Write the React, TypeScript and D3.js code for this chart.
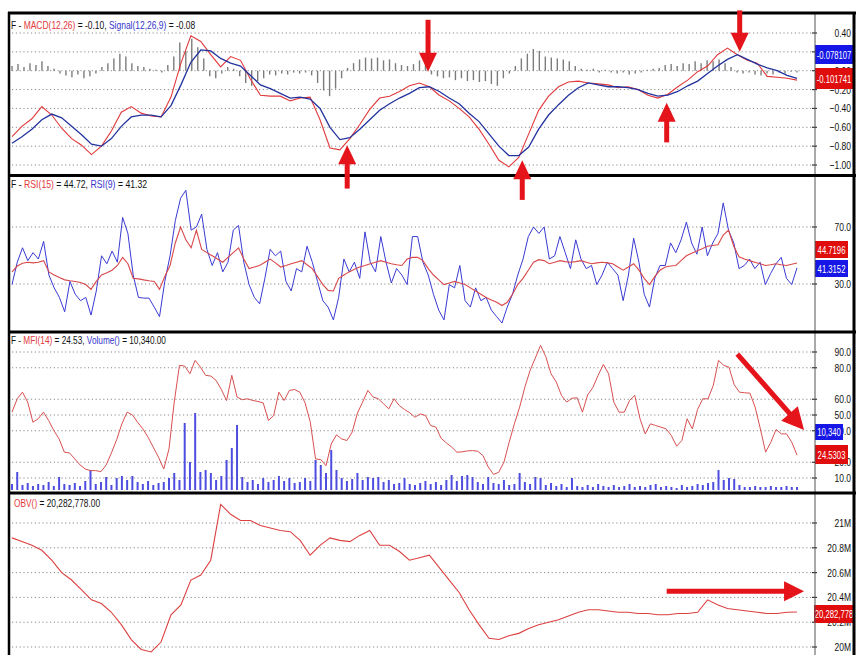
import React from 'react';
import * as d3 from 'd3';

const W = 858;
const H = 655;
const PLOT_L = 12;
const PLOT_R = 797;
const AXIS_X = 815;

// ---------- MACD panel ----------
const macdLine = [
  -0.70, -0.59, -0.51, -0.38, -0.47, -0.61, -0.72, -0.79, -0.89, -0.80,
  -0.64, -0.44, -0.38, -0.45, -0.48, -0.49, -0.28, 0.08, 0.37, 0.31,
  0.17, 0.04, 0.15, 0.11, -0.09, -0.26, -0.27, -0.27, -0.32, -0.29,
  -0.28, -0.52, -0.82, -0.84, -0.72, -0.57, -0.41, -0.29, -0.27, -0.22,
  -0.16, -0.13, -0.17, -0.26, -0.32, -0.40, -0.49, -0.62, -0.78, -0.95,
  -1.02, -0.92, -0.67, -0.42, -0.27, -0.17, -0.12, -0.11, -0.13, -0.14,
  -0.15, -0.18, -0.17, -0.20, -0.26, -0.29, -0.25, -0.17, -0.10, -0.01,
  0.05, 0.17, 0.24, 0.17, 0.11, 0.08, -0.06, -0.07, -0.08, -0.10,
];
const signalLine = [
  -0.77, -0.70, -0.62, -0.52, -0.46, -0.50, -0.59, -0.68, -0.78, -0.80,
  -0.72, -0.59, -0.49, -0.47, -0.47, -0.49, -0.37, -0.15, 0.09, 0.22,
  0.21, 0.13, 0.08, 0.05, -0.05, -0.15, -0.19, -0.24, -0.29, -0.28,
  -0.30, -0.40, -0.60, -0.73, -0.71, -0.62, -0.52, -0.42, -0.35, -0.29,
  -0.24, -0.18, -0.17, -0.22, -0.29, -0.35, -0.45, -0.54, -0.67, -0.80,
  -0.90, -0.90, -0.81, -0.62, -0.47, -0.36, -0.26, -0.18, -0.13, -0.15,
  -0.17, -0.17, -0.18, -0.20, -0.24, -0.27, -0.26, -0.22, -0.16, -0.11,
  -0.03, 0.05, 0.12, 0.17, 0.12, 0.07, 0.03, 0.00, -0.05, -0.08,
];
const macdHist = [
  0.05, 0.07, 0.04, 0.08, 0.06, 0.10, 0.05, 0.02, -0.03, -0.05,
  -0.07, -0.04, -0.08, -0.06, -0.03, 0.04, 0.08, 0.13, 0.18, 0.15,
  0.08, 0.05, 0.04, 0.02, 0.01, -0.02, 0.06, 0.15, 0.30, 0.21,
  0.34, 0.25, 0.13, -0.06, -0.08, -0.03, 0.04, 0.02, -0.06, -0.13,
  -0.16, -0.11, -0.08, -0.04, -0.05, -0.03, -0.04, -0.02, -0.03, -0.02,
  -0.05, -0.13, -0.21, -0.27, -0.19, -0.08, 0.03, 0.08, 0.12, 0.14,
  0.13, 0.14, 0.11, 0.12, 0.08, 0.06, 0.05, 0.07, 0.11, 0.08,
  -0.04, -0.06, -0.08, -0.07, -0.10, -0.08, -0.11, -0.10, -0.12, -0.11,
  -0.14, -0.16, -0.08, -0.03, 0.05, 0.13, 0.18, 0.23, 0.21, 0.15,
  0.14, 0.13, 0.12, 0.10, 0.05, 0.02, 0.01, 0.02, -0.02, 0.01,
  -0.02, -0.03, -0.02, -0.04, -0.03, -0.02, 0.01, 0.02, 0.03, 0.06,
  0.07, 0.05, 0.08, 0.07, 0.10, 0.08, 0.11, 0.10, 0.12, 0.08,
  0.04, -0.02, -0.03, -0.02, -0.04, -0.05, -0.03, -0.04, -0.02, -0.03,
  -0.01, -0.02,
];
const macdTicks = [-1.0, -0.8, -0.6, -0.4, -0.2, 0, 0.2, 0.4];

// ---------- RSI panel ----------
const rsi9 = [
  29.6, 45.3, 55.4, 46.4, 52.0, 47.5, 59.9, 36.3, 27.3, 20.6,
  10.5, 31.8, 22.8, 18.3, 20.6, 8.2, 25.1, 49.8, 44.2, 53.1,
  45.3, 76.7, 65.5, 36.3, 20.6, 20.1, 20.1, 13.8, 7.1, 31.8,
  49.8, 74.5, 90.2, 95.8, 67.8, 70.0, 79.0, 54.3, 43.0, 52.0,
  38.5, 45.3, 67.8, 71.1, 45.3, 29.6, 20.6, 16.1, 34.0, 54.3,
  49.8, 53.1, 31.8, 25.1, 40.8, 38.5, 56.5, 45.3, 31.8, 18.3,
  13.8, 4.8, 20.6, 47.5, 38.5, 45.3, 34.0, 66.6, 45.3, 38.5,
  63.3, 45.3, 30.7, 40.8, 36.3, 29.6, 63.3, 63.3, 45.3, 36.3,
  22.8, 11.6, 4.8, 29.6, 27.3, 43.0, 18.3, 13.8, 27.3, 18.3,
  20.6, 11.6, 7.1, 2.6, 13.8, 22.8, 36.3, 47.5, 63.3, 70.0,
  65.5, 70.0, 47.5, 49.8, 63.3, 52.0, 40.8, 61.0, 47.5, 40.8,
  43.0, 29.6, 36.3, 45.3, 40.8, 36.3, 18.3, 36.3, 62.1, 45.3,
  22.8, 13.8, 34.0, 43.0, 43.0, 58.8, 52.0, 61.0, 73.4, 58.8,
  50.9, 70.0, 49.8, 58.8, 65.5, 86.9, 67.8, 58.8, 40.8, 43.0,
  47.5, 40.8, 45.3, 29.6, 37.4, 44.2, 48.7, 34.0, 29.6, 41.32,
];
const rsi15 = [
  38.5, 42.6, 44.6, 45.3, 44.8, 45.3, 46.4, 38.5, 36.3, 34.5,
  32.9, 32.3, 31.8, 31.1, 29.6, 26.2, 31.8, 36.3, 37.9, 39.7,
  43.0, 48.7, 44.2, 34.0, 33.6, 32.9, 32.3, 31.8, 26.2, 35.2,
  43.0, 58.8, 70.0, 61.0, 55.4, 67.8, 54.3, 52.0, 49.8, 47.5,
  45.3, 48.7, 52.0, 55.4, 47.5, 40.8, 41.9, 43.0, 45.3, 47.5,
  44.8, 41.9, 43.0, 44.2, 45.3, 46.4, 43.5, 40.8, 35.2, 29.6,
  25.5, 25.1, 34.0, 36.3, 38.5, 40.3, 41.9, 43.0, 44.2, 45.3,
  46.4, 45.3, 44.2, 43.5, 43.0, 47.5, 48.7, 48.7, 46.4, 40.8,
  36.3, 32.9, 29.6, 30.7, 31.8, 30.7, 29.6, 27.3, 25.1, 22.8,
  20.6, 18.8, 17.2, 14.9, 17.2, 22.8, 29.6, 34.0, 39.7, 45.3,
  47.1, 46.4, 44.2, 45.3, 46.4, 45.7, 45.3, 45.7, 46.4, 45.3,
  44.2, 44.8, 45.3, 44.8, 44.2, 41.9, 39.7, 41.9, 44.2, 39.7,
  34.0, 29.6, 35.2, 39.7, 41.9, 42.6, 43.0, 46.4, 49.8, 51.6,
  53.1, 54.7, 56.5, 57.0, 57.6, 64.4, 67.8, 56.5, 49.1, 47.5,
  46.4, 45.3, 44.2, 43.0, 43.5, 44.2, 43.5, 43.0, 43.9, 44.72,
];
const rsiTicks = [30, 70];

// ---------- MFI / Volume panel ----------
const mfi14 = [
  51.8, 60.3, 64.5, 58.2, 45.4, 47.6, 51.8, 46.5, 40.1, 34.8,
  26.4, 25.9, 22.1, 18.3, 15.7, 14.7, 14.7, 14.0, 18.3, 25.9,
  34.4, 44.4, 51.8, 50.1, 45.4, 41.2, 35.9, 29.5, 23.2, 15.7,
  28.5, 58.2, 81.5, 81.1, 76.2, 84.7, 80.4, 75.2, 74.7, 72.0,
  66.2, 59.2, 75.2, 61.4, 59.7, 60.3, 59.2, 58.6, 57.7, 46.5,
  49.7, 64.5, 59.2, 65.6, 66.2, 64.5, 57.7, 45.4, 22.1, 21.7,
  17.8, 31.6, 37.4, 34.8, 33.8, 39.1, 51.2, 58.2, 65.6, 61.4,
  60.3, 57.1, 53.9, 60.3, 56.0, 53.5, 51.4, 48.6, 50.7, 49.7,
  43.3, 42.3, 35.2, 32.3, 29.7, 26.4, 26.6, 27.2, 27.4, 27.0,
  24.2, 17.0, 12.3, 13.6, 20.0, 32.7, 44.4, 55.0, 67.7, 78.3,
  86.2, 94.2, 87.0, 76.2, 70.9, 62.4, 58.2, 60.7, 60.9, 51.8,
  62.8, 67.5, 75.2, 82.1, 76.2, 58.2, 51.8, 51.8, 59.2, 62.4,
  47.6, 38.0, 44.4, 43.3, 42.3, 41.2, 36.9, 30.2, 33.8, 47.6,
  41.2, 53.5, 60.3, 60.3, 68.8, 84.7, 81.5, 80.4, 69.2, 64.5,
  64.1, 63.9, 55.0, 41.2, 26.4, 32.7, 40.8, 38.0, 38.0, 32.7,
  24.53,
];
const volume = [
  20700, 62100, 17250, 24150, 13800, 20700, 17250, 27600, 13800, 44850,
  20700, 17250, 24150, 13800, 31050, 69000, 20700, 27600, 44850, 17250,
  41400, 48300, 34500, 48300, 27600, 20700, 31050, 17250, 24150, 27600,
  41400, 58650, 34500, 231150, 96600, 265650, 62100, 69000, 58650, 34500,
  48300, 103500, 144900, 224250, 44850, 27600, 34500, 20700, 41400, 27600,
  34500, 48300, 31050, 41400, 24150, 27600, 41400, 31050, 103500, 86250,
  58650, 138000, 69000, 41400, 31050, 37950, 58650, 34500, 44850, 41400,
  44850, 27600, 34500, 20700, 24150, 41400, 20700, 17250, 24150, 31050,
  20700, 27600, 17250, 34500, 51750, 31050, 48300, 51750, 44850, 27600,
  20700, 44850, 24150, 20700, 34500, 17250, 20700, 58650, 27600, 20700,
  44850, 41400, 17250, 24150, 13800, 20700, 10350, 41400, 13800, 10350,
  17250, 10350, 20700, 13800, 10350, 17250, 10350, 13800, 20700, 10350,
  13800, 10350, 17250, 20700, 10350, 13800, 10350, 6900, 17250, 10350,
  13800, 20700, 17250, 24150, 27600, 69000, 34500, 41400, 37950, 17250,
  10350, 10350, 13800, 10350, 10350, 13800, 10350, 10350, 13800, 10350,
  10340,
];
const mfiTicks = [10, 20, 40, 50, 60, 80, 90];

// ---------- OBV panel (millions) ----------
const obv = [
  20.88, 20.85, 20.82, 20.78, 20.70, 20.60, 20.54, 20.46, 20.38, 20.35,
  20.28, 20.18, 20.06, 19.98, 19.96, 20.04, 20.26, 20.34, 20.54, 20.58,
  20.70, 21.15, 21.07, 21.02, 21.02, 20.98, 20.96, 20.94, 20.93, 20.86,
  20.74, 20.82, 20.88, 20.86, 20.85, 20.90, 20.94, 20.82, 20.82, 20.77,
  20.70, 20.72, 20.74, 20.64, 20.54, 20.44, 20.30, 20.18, 20.07, 20.06,
  20.09, 20.11, 20.15, 20.18, 20.20, 20.22, 20.25, 20.28, 20.30, 20.30,
  20.29, 20.28, 20.28, 20.27, 20.27, 20.26, 20.26, 20.27, 20.27, 20.28,
  20.38, 20.34, 20.31, 20.30, 20.29, 20.28, 20.27, 20.27, 20.28, 20.282778,
];
const obvTicks = [20.0, 20.2, 20.4, 20.6, 20.8, 21.0];

// ---------- annotations (time fraction t, panel value v) ----------
const macdArrows = [
  { t0: 0.530, v0: 0.54, t1: 0.530, v1: -0.01 },
  { t0: 0.427, v0: -1.25, t1: 0.427, v1: -0.79 },
  { t0: 0.650, v0: -1.37, t1: 0.650, v1: -0.95 },
  { t0: 0.834, v0: -0.76, t1: 0.834, v1: -0.34 },
  { t0: 0.927, v0: 0.64, t1: 0.927, v1: 0.20 },
];
const mfiArrows = [{ t0: 0.924, v0: 88.7, t1: 1.009, v1: 40.5 }];
const obvArrows = [{ t0: 0.834, v0: 20.45, t1: 1.009, v1: 20.45 }];

const FONT = "'Liberation Sans', Arial, sans-serif";
const RED = '#e1393b';
const BLUE = '#3434cc';
const ARROW = '#e5131a';

function idxScale(n: number) {
  return d3.scaleLinear().domain([0, n - 1]).range([PLOT_L, PLOT_R]);
}

function Narrow({ x, y, anchor = 'start', size = 11, fill = '#111', sx = 0.74, children }: any) {
  return (
    <text
      transform={`translate(${x},${y}) scale(${sx},1)`}
      textAnchor={anchor}
      fontSize={size}
      fill={fill}
      fontFamily={FONT}
    >
      {children}
    </text>
  );
}

function Arrow({ x0, y0, x1, y1, shaft = 5, headLen = 20, headW = 9 }: any) {
  const dx = x1 - x0;
  const dy = y1 - y0;
  const len = Math.hypot(dx, dy);
  const ux = dx / len;
  const uy = dy / len;
  const px = -uy;
  const py = ux;
  const bx = x1 - ux * headLen;
  const by = y1 - uy * headLen;
  const pts = [
    [x1, y1],
    [bx + px * headW, by + py * headW],
    [bx - px * headW, by - py * headW],
  ];
  return (
    <g>
      <line x1={x0} y1={y0} x2={bx + ux * 2} y2={by + uy * 2} stroke={ARROW} strokeWidth={shaft} />
      <polygon points={pts.map((p) => p.join(',')).join(' ')} fill={ARROW} />
    </g>
  );
}

function Grid({ ticks, y, fmt }: any) {
  return (
    <g>
      {ticks.map((t: number) => (
        <g key={t}>
          <line x1={PLOT_L} x2={AXIS_X - 3} y1={y(t)} y2={y(t)} stroke="#8a8a8a" strokeWidth={1} strokeDasharray="1.2,2.6" />
          <line x1={AXIS_X - 3} x2={AXIS_X + 2} y1={y(t)} y2={y(t)} stroke="#333" strokeWidth={1.2} />
          <Narrow x={851} y={y(t) + 4} anchor="end" size={11.5}>{fmt(t)}</Narrow>
        </g>
      ))}
    </g>
  );
}

function ValueBox({ x, y, w, h, fill, text }: any) {
  return (
    <g>
      <rect x={x} y={y} width={w} height={h} fill={fill} />
      <Narrow x={x + w / 2} y={y + h / 2 + 4} anchor="middle" size={11} fill="#fff" sx={0.7}>{text}</Narrow>
    </g>
  );
}

export default function App() {
  const xT = d3.scaleLinear().domain([0, 1]).range([PLOT_L, PLOT_R]);

  // MACD
  const yMacd = d3.scaleLinear().domain([-1.0, 0.4]).range([165, 33]);
  const xMacd = idxScale(macdLine.length);
  const xHist = idxScale(macdHist.length);
  const macdPath = d3.line<number>().x((_, i) => xMacd(i)).y((d) => yMacd(d))(macdLine) || '';
  const sigPath = d3.line<number>().x((_, i) => xMacd(i)).y((d) => yMacd(d))(signalLine) || '';

  // RSI
  const yRsi = d3.scaleLinear().domain([30, 70]).range([284, 227]);
  const xRsi = idxScale(rsi9.length);
  const rsi9Path = d3.line<number>().x((_, i) => xRsi(i)).y((d) => yRsi(d))(rsi9) || '';
  const rsi15Path = d3.line<number>().x((_, i) => xRsi(i)).y((d) => yRsi(d))(rsi15) || '';

  // MFI
  const yMfi = d3.scaleLinear().domain([10, 90]).range([478, 352]);
  const xMfi = idxScale(mfi14.length);
  const yVol = d3.scaleLinear().domain([0, 300000]).range([490, 403]);
  const mfiPath = d3.line<number>().x((_, i) => xMfi(i)).y((d) => yMfi(d))(mfi14) || '';

  // OBV
  const yObv = d3.scaleLinear().domain([20.0, 21.0]).range([647, 523]);
  const xObv = idxScale(obv.length);
  const obvPath = d3.line<number>().x((_, i) => xObv(i)).y((d) => yObv(d))(obv) || '';

  const f2 = d3.format('.2f');
  const f1 = d3.format('.1f');
  const fM = (v: number) => (Math.abs(v - Math.round(v)) < 1e-9 ? `${Math.round(v)}M` : `${v.toFixed(1)}M`);

  return (
    <svg
      width={W}
      height={H}
      viewBox={`0 0 ${W} ${H}`}
      style={{ position: 'absolute', left: 0, top: 0, background: '#fff' }}
    >
      <rect x={0} y={0} width={W} height={H} fill="#fff" />

      {/* grids */}
      <Grid ticks={macdTicks} y={yMacd} fmt={f2} />
      <Grid ticks={rsiTicks} y={yRsi} fmt={f1} />
      <Grid ticks={mfiTicks} y={yMfi} fmt={f1} />
      <Grid ticks={obvTicks} y={yObv} fmt={fM} />

      {/* MACD histogram */}
      {macdHist.map((v, i) => (
        <line key={'h' + i} x1={xHist(i)} x2={xHist(i)} y1={yMacd(0)} y2={yMacd(v)} stroke="#7c7c7c" strokeWidth={1.4} />
      ))}
      <path d={macdPath} fill="none" stroke={RED} strokeWidth={1.1} />
      <path d={sigPath} fill="none" stroke="#23339e" strokeWidth={1.3} />

      {/* RSI */}
      <path d={rsi9Path} fill="none" stroke="#3a3ad4" strokeWidth={1} />
      <path d={rsi15Path} fill="none" stroke="#d8484a" strokeWidth={1.1} />

      {/* Volume + MFI */}
      {volume.map((v, i) => (
        <line key={'v' + i} x1={xMfi(i)} x2={xMfi(i)} y1={yVol(0)} y2={yVol(v)} stroke="#4d4de0" strokeWidth={2} />
      ))}
      <path d={mfiPath} fill="none" stroke="#d85050" strokeWidth={1} />

      {/* OBV */}
      <path d={obvPath} fill="none" stroke="#dc4040" strokeWidth={1.1} />

      {/* value boxes */}
      <ValueBox x={815} y={45} w={38} h={19} fill="#1616e6" text="-0.078107" />
      <ValueBox x={815} y={68} w={38} h={21} fill="#e00d0d" text="-0.101741" />
      <ValueBox x={815} y={241} w={33} h={17} fill="#e00d0d" text="44.7196" />
      <ValueBox x={815} y={260} w={33} h={17} fill="#1616e6" text="41.3152" />
      <ValueBox x={815} y={424} w={28} h={16} fill="#1616e6" text="10,340" />
      <ValueBox x={815} y={445} w={33} h={19} fill="#e00d0d" text="24.5303" />
      <ValueBox x={814} y={605} w={40} h={18} fill="#e00d0d" text="20,282,778" />

      {/* frame */}
      <line x1={AXIS_X} x2={AXIS_X} y1={13} y2={H} stroke="#555" strokeWidth={1} />
      <line x1={8} x2={856} y1={13} y2={13} stroke="#000" strokeWidth={3} />
      <line x1={8} x2={856} y1={175.5} y2={175.5} stroke="#000" strokeWidth={3} />
      <line x1={8} x2={856} y1={332} y2={332} stroke="#000" strokeWidth={3} />
      <line x1={8} x2={856} y1={493} y2={493} stroke="#000" strokeWidth={3} />
      <line x1={9} x2={9} y1={12} y2={H} stroke="#000" strokeWidth={2.5} />
      <line x1={854} x2={854} y1={12} y2={H} stroke="#000" strokeWidth={3} />

      {/* headers */}
      <Narrow x={11} y={29} size={11} sx={0.77}>
        <tspan>F - </tspan>
        <tspan fill={RED}>MACD(12,26)</tspan>
        <tspan> = -0.10, </tspan>
        <tspan fill={BLUE}>Signal(12,26,9)</tspan>
        <tspan> = -0.08</tspan>
      </Narrow>
      <Narrow x={11} y={188} size={11} sx={0.79}>
        <tspan>F - </tspan>
        <tspan fill={RED}>RSI(15)</tspan>
        <tspan> = 44.72, </tspan>
        <tspan fill={BLUE}>RSI(9)</tspan>
        <tspan> = 41.32</tspan>
      </Narrow>
      <Narrow x={11} y={344} size={11} sx={0.75}>
        <tspan>F - </tspan>
        <tspan fill={RED}>MFI(14)</tspan>
        <tspan> = 24.53, </tspan>
        <tspan fill={BLUE}>Volume()</tspan>
        <tspan> = 10,340.00</tspan>
      </Narrow>
      <Narrow x={14} y={507} size={11} sx={0.76}>
        <tspan fill={RED}>OBV()</tspan>
        <tspan> = 20,282,778.00</tspan>
      </Narrow>

      {/* annotation arrows */}
      {macdArrows.map((a, i) => (
        <Arrow key={'am' + i} x0={xT(a.t0)} y0={yMacd(a.v0)} x1={xT(a.t1)} y1={yMacd(a.v1)} shaft={5} headLen={19} headW={9} />
      ))}
      {mfiArrows.map((a, i) => (
        <Arrow key={'af' + i} x0={xT(a.t0)} y0={yMfi(a.v0)} x1={xT(a.t1)} y1={yMfi(a.v1)} shaft={5} headLen={22} headW={11} />
      ))}
      {obvArrows.map((a, i) => (
        <Arrow key={'ao' + i} x0={xT(a.t0)} y0={yObv(a.v0)} x1={xT(a.t1)} y1={yObv(a.v1)} shaft={5} headLen={20} headW={10} />
      ))}
    </svg>
  );
}
